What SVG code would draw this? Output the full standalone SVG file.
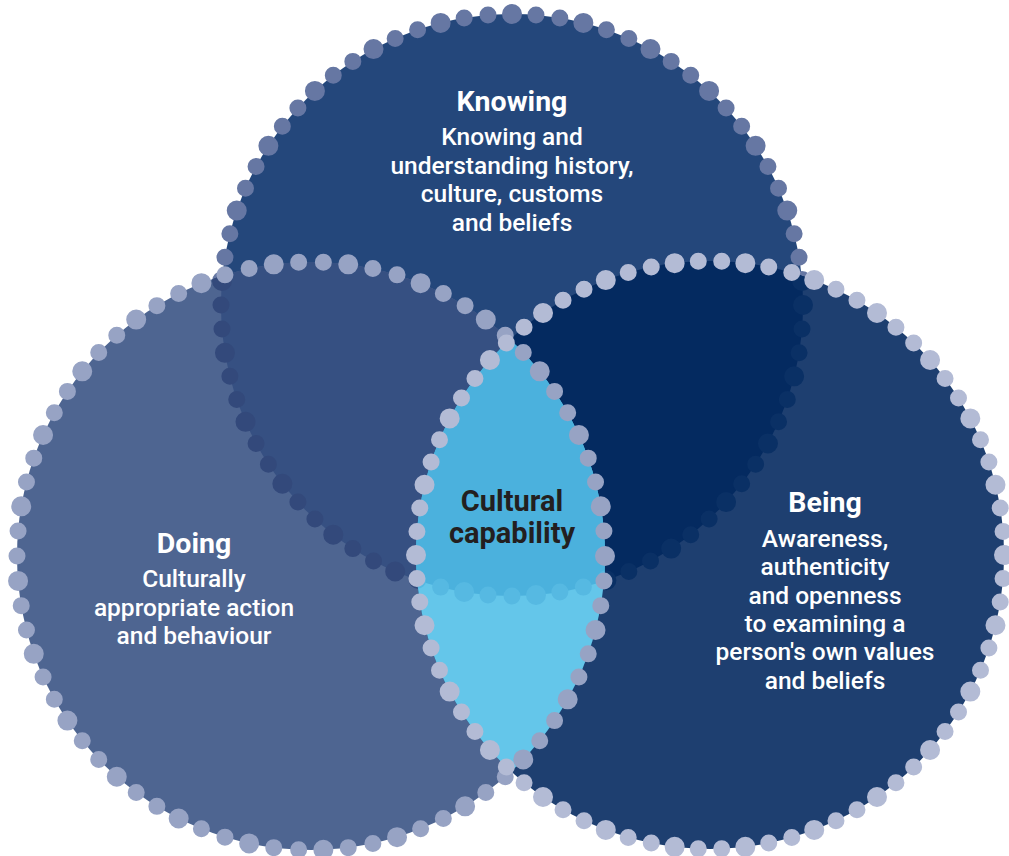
<svg xmlns="http://www.w3.org/2000/svg" width="1009" height="856" viewBox="0 0 1009 856">
  <style>
    .dots { fill: none; stroke-linecap: round; stroke-dasharray: 0 1; }
    .big { stroke-dasharray: 0 3; }
    .h { font-family: Roboto, "Liberation Sans", sans-serif; font-weight: 700; font-size: 28.5px; fill: #ffffff; text-anchor: middle; }
    .b { font-family: Roboto, "Liberation Sans", sans-serif; font-weight: 500; font-size: 24.5px; fill: #ffffff; text-anchor: middle; }
    .c { font-family: Roboto, "Liberation Sans", sans-serif; font-weight: 700; font-size: 29px; fill: #231f20; text-anchor: middle; }
  </style>
  <defs>
    <clipPath id="clipD"><circle cx="311" cy="556" r="294"/></clipPath>
    <clipPath id="clipB"><circle cx="710" cy="555" r="294"/></clipPath>
  </defs>
  <rect width="1009" height="856" fill="#ffffff"/>

  <!-- Knowing base -->
  <g id="knowing">
    <circle cx="512" cy="305" r="291" fill="#24477b"/>
    <circle class="dots" cx="512" cy="305" r="291" pathLength="76" stroke="#6677a3" stroke-width="17"/>
    <circle class="dots big" cx="512" cy="305" r="291" pathLength="76" stroke="#6677a3" stroke-width="20"/>
  </g>

  <!-- Doing base -->
  <g id="doing">
    <circle cx="311" cy="556" r="294" fill="#4e6591"/>
  </g>

  <!-- Being base -->
  <g id="being">
    <circle cx="710" cy="555" r="294" fill="#1e3f70"/>
  </g>

  <!-- Overlaps -->
  <g id="overlaps">
    <g id="knowing-doing" clip-path="url(#clipD)">
      <circle cx="512" cy="305" r="291" fill="#365082"/>
      <circle class="dots" cx="512" cy="305" r="291" pathLength="76" stroke="#33497b" stroke-width="17"/>
      <circle class="dots big" cx="512" cy="305" r="291" pathLength="76" stroke="#33497b" stroke-width="20"/>
    </g>
    <g id="knowing-being" clip-path="url(#clipB)">
      <circle cx="512" cy="305" r="291" fill="#042a60"/>
      <circle class="dots" cx="512" cy="305" r="291" pathLength="76" stroke="#0a3065" stroke-width="17"/>
      <circle class="dots big" cx="512" cy="305" r="291" pathLength="76" stroke="#0a3065" stroke-width="20"/>
    </g>
  </g>

  <!-- Centre lens -->
  <g id="cultural-capability">
    <g clip-path="url(#clipD)">
      <g clip-path="url(#clipB)">
        <rect x="380" y="320" width="260" height="480" fill="#64c6ea"/>
        <circle cx="512" cy="305" r="291" fill="#4bb1dd"/>
        <circle class="dots" cx="512" cy="305" r="291" pathLength="76" stroke="#56b9e2" stroke-width="17"/>
        <circle class="dots big" cx="512" cy="305" r="291" pathLength="76" stroke="#56b9e2" stroke-width="20"/>
      </g>
    </g>
  </g>

  <!-- Dotted rims of Doing and Being -->
  <g id="doing-rim">
    <circle class="dots" cx="311" cy="556" r="294" pathLength="74" stroke="#97a3c4" stroke-width="17"/>
    <circle class="dots big" cx="311" cy="556" r="294" pathLength="74" stroke="#97a3c4" stroke-width="20"/>
  </g>
  <g id="being-rim">
    <circle class="dots" cx="710" cy="555" r="294" pathLength="78" stroke="#b3bbd5" stroke-width="17"/>
    <circle class="dots big" cx="710" cy="555" r="294" pathLength="78" stroke="#b3bbd5" stroke-width="20"/>
  </g>

  <!-- Labels -->
  <g id="knowing-label">
    <text class="h" x="512" y="111">Knowing</text>
    <text class="b" x="512" y="145">Knowing and</text>
    <text class="b" x="512" y="173.5">understanding history,</text>
    <text class="b" x="512" y="202">culture, customs</text>
    <text class="b" x="512" y="230.5">and beliefs</text>
  </g>
  <g id="doing-label">
    <text class="h" x="194" y="553">Doing</text>
    <text class="b" x="194" y="587">Culturally</text>
    <text class="b" x="194" y="615.5">appropriate action</text>
    <text class="b" x="194" y="644">and behaviour</text>
  </g>
  <g id="being-label">
    <text class="h" x="825" y="512">Being</text>
    <text class="b" x="825" y="547">Awareness,</text>
    <text class="b" x="825" y="575.3">authenticity</text>
    <text class="b" x="825" y="603.6">and openness</text>
    <text class="b" x="825" y="631.9">to examining a</text>
    <text class="b" x="825" y="660.2">person's own values</text>
    <text class="b" x="825" y="688.5">and beliefs</text>
  </g>
  <g id="cultural-label">
    <text class="c" x="512" y="511">Cultural</text>
    <text class="c" x="512" y="543">capability</text>
  </g>
</svg>
